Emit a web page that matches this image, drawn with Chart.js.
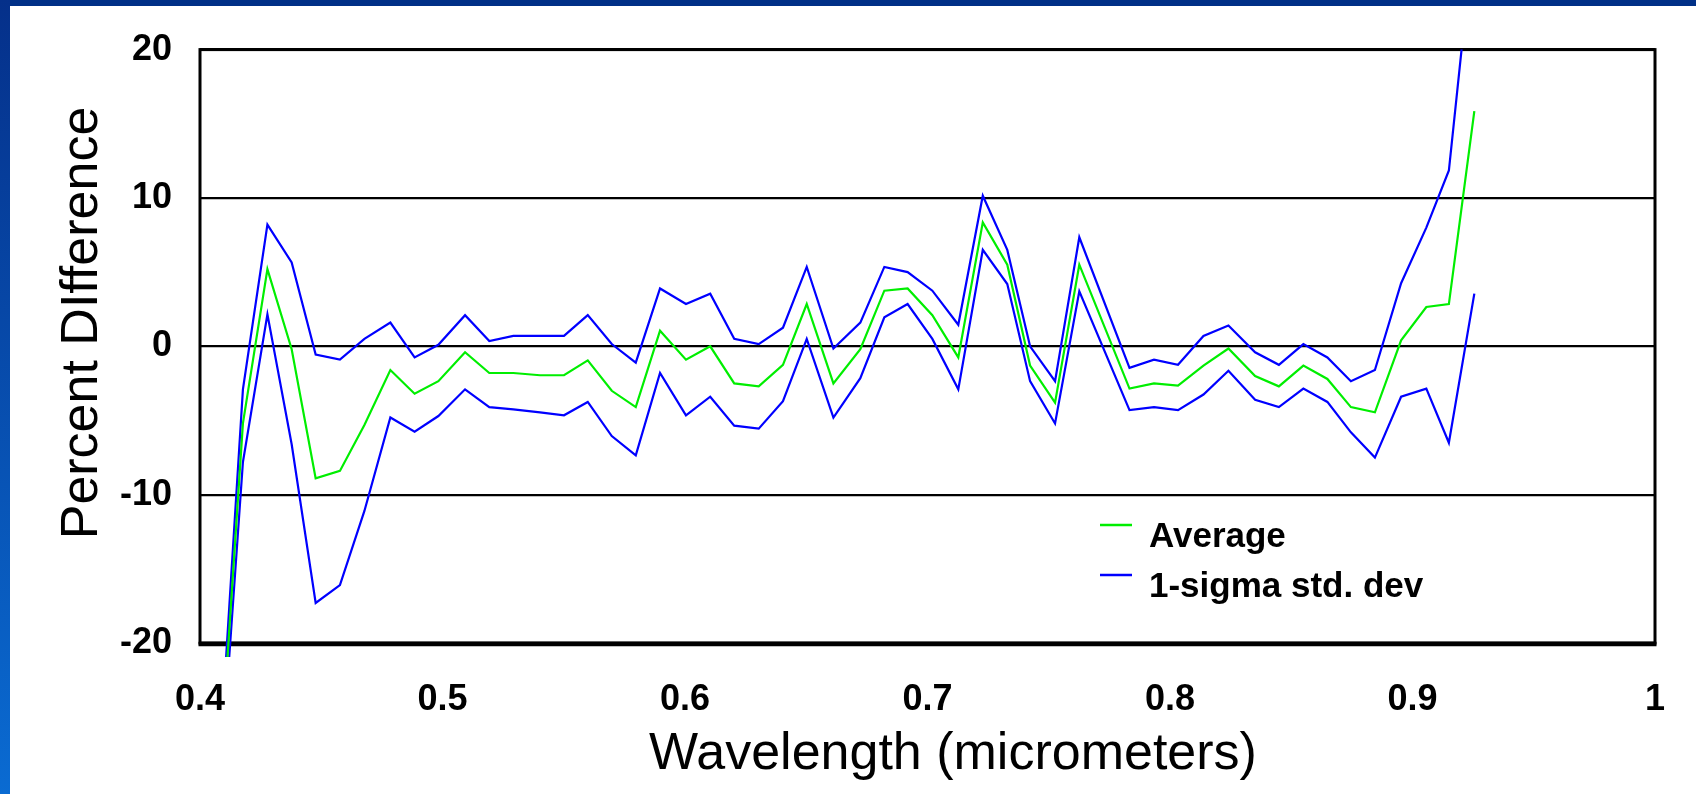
<!DOCTYPE html>
<html lang="en">
<head>
    <meta charset="UTF-8">
    <title>Percent Difference vs Wavelength</title>
    <script src="https://cdn.jsdelivr.net/npm/chart.js"></script>
    <style>
        html, body { margin: 0; padding: 0; background: #fff; }
        body { width: 1696px; height: 794px; position: relative; overflow: hidden; }
        #myChart { position: absolute; left: 0; top: 0; }
        /* slide frame: navy band on top, blue gradient strip on the left */
        #topBand { position: absolute; left: 0; top: 0; width: 1696px; height: 6px; background: #003087; }
        #leftBand { position: absolute; left: 0; top: 0; width: 10px; height: 794px; background: linear-gradient(#05308a, #0a6bd2); }
    </style>
</head>
<body>
    <canvas id="myChart" width="1696" height="794"></canvas>
    <div id="topBand"></div>
    <div id="leftBand"></div>
    <script>
        // wavelength in micrometers
        const wavelengths = [0.4076, 0.4177, 0.4278, 0.4378, 0.4477, 0.4577, 0.4678, 0.4785, 0.4885, 0.4983,
            0.5093, 0.5193, 0.5292, 0.5402, 0.5501, 0.5599, 0.5698, 0.5797, 0.5897, 0.6004,
            0.6104, 0.6203, 0.6304, 0.6404, 0.6502, 0.6612, 0.6723, 0.6822, 0.6918, 0.7020,
            0.7127, 0.7228, 0.7329, 0.7423, 0.7526, 0.7626, 0.7833, 0.7934, 0.8033, 0.8138,
            0.8241, 0.8351, 0.8449, 0.8550, 0.8649, 0.8746, 0.8845, 0.8953, 0.9057, 0.9150, 0.9255];

        // percent difference
        const average = [-30.2, -5.2, 5.2, -0.2, -8.9, -8.4, -5.3, -1.6, -3.2, -2.35,
            -0.4, -1.8, -1.8, -1.95, -1.95, -0.95, -3.0, -4.1, 1.05, -0.9,
            0.0, -2.5, -2.7, -1.25, 2.85, -2.5, -0.2, 3.75, 3.9, 2.1,
            -0.75, 8.35, 5.5, -1.3, -3.8, 5.5, -2.85, -2.5, -2.65, -1.3,
            -0.15, -2.0, -2.7, -1.3, -2.2, -4.1, -4.45, 0.4, 2.65, 2.85, 15.85];

        const sigmaUpper = [-29.2, -2.9, 8.2, 5.65, -0.55, -0.9, 0.5, 1.6, -0.75, 0.1,
            2.1, 0.35, 0.7, 0.7, 0.7, 2.1, 0.15, -1.1, 3.9, 2.85,
            3.55, 0.5, 0.15, 1.25, 5.35, -0.15, 1.6, 5.35, 5.0, 3.75,
            1.45, 10.15, 6.5, 0.0, -2.35, 7.35, -1.45, -0.9, -1.25, 0.7,
            1.4, -0.4, -1.25, 0.15, -0.75, -2.35, -1.6, 4.25, 8.0, 11.85, 28.2];

        const sigmaLower = [-31.3, -7.8, 2.15, -6.6, -17.3, -16.1, -11.1, -4.8, -5.75, -4.7,
            -2.9, -4.1, -4.25, -4.45, -4.65, -3.75, -6.05, -7.35, -1.8, -4.65,
            -3.4, -5.35, -5.55, -3.7, 0.5, -4.8, -2.15, 1.95, 2.85, 0.5,
            -2.9, 6.5, 4.2, -2.35, -5.2, 3.7, -4.3, -4.1, -4.3, -3.25,
            -1.65, -3.6, -4.1, -2.85, -3.75, -5.8, -7.5, -3.4, -2.85, -6.5, 3.55];

        const xTickLabels = ['0.4', '0.5', '0.6', '0.7', '0.8', '0.9', '1'];
        const yTickLabels = ['-20', '-10', '0', '10', '20'];

        const FONT = "'Liberation Sans', Arial, sans-serif";
        const GREEN = '#00ee00';
        const BLUE = '#0000ff';

        const toPoints = (ys) => wavelengths.map((x, i) => ({ x: x, y: ys[i] }));

        // lines may run a little below the frame, but not above it
        const lineClip = { left: 20, top: 0, right: 20, bottom: 14 };

        // black box around the plot area
        const frame = {
            id: 'frame',
            beforeDatasetsDraw(chart) {
                const { ctx, chartArea: a } = chart;
                ctx.save();
                ctx.strokeStyle = '#000';
                ctx.lineWidth = 3;
                ctx.strokeRect(a.left, a.top, a.right - a.left, a.bottom - a.top);
                ctx.lineWidth = 4.5;
                ctx.beginPath();
                ctx.moveTo(a.left - 1.5, a.bottom + 1);
                ctx.lineTo(a.right + 1.5, a.bottom + 1);
                ctx.stroke();
                ctx.restore();
            }
        };

        // legend inside the plot, lower right
        const insideLegend = {
            id: 'insideLegend',
            afterDatasetsDraw(chart) {
                const ctx = chart.ctx;
                const items = chart.data.datasets.filter(d => !d.noLegend);
                ctx.save();
                ctx.font = 'bold 35px ' + FONT;
                ctx.textBaseline = 'alphabetic';
                ctx.textAlign = 'left';
                items.forEach((d, i) => {
                    const y = 525 + i * 50;
                    ctx.strokeStyle = d.borderColor;
                    ctx.lineWidth = 2.5;
                    ctx.beginPath();
                    ctx.moveTo(1100, y);
                    ctx.lineTo(1132, y);
                    ctx.stroke();
                    ctx.fillStyle = '#000';
                    ctx.fillText(d.label, 1149, y + 21.5);
                });
                ctx.restore();
            }
        };

        // axis titles
        const axisTitles = {
            id: 'axisTitles',
            afterDraw(chart) {
                const ctx = chart.ctx;
                ctx.save();
                ctx.fillStyle = '#000';
                ctx.font = '52px ' + FONT;
                ctx.textAlign = 'center';
                ctx.textBaseline = 'alphabetic';
                ctx.fillText('Wavelength (micrometers)', 953, 769);
                ctx.translate(97, 323);
                ctx.rotate(-Math.PI / 2);
                ctx.fillText('Percent DIfference', 0, 0);
                ctx.restore();
            }
        };

        new Chart(document.getElementById('myChart'), {
            type: 'line',
            data: {
                datasets: [{
                    label: 'Average',
                    data: toPoints(average),
                    borderColor: GREEN,
                    borderWidth: 2.2,
                    clip: lineClip
                }, {
                    label: '1-sigma std. dev',
                    data: toPoints(sigmaUpper),
                    borderColor: BLUE,
                    borderWidth: 2.2,
                    clip: lineClip
                }, {
                    label: '1-sigma std. dev',
                    noLegend: true,
                    data: toPoints(sigmaLower),
                    borderColor: BLUE,
                    borderWidth: 2.2,
                    clip: lineClip
                }]
            },
            options: {
                responsive: false,
                animation: false,
                elements: { point: { radius: 0 }, line: { tension: 0 } },
                layout: { padding: { top: 45, right: 41, left: 0, bottom: 0 } },
                plugins: {
                    legend: { display: false },
                    tooltip: { enabled: false }
                },
                scales: {
                    x: {
                        type: 'linear',
                        min: 0.4,
                        max: 1.0,
                        afterFit: (s) => { s.height = 151; },
                        grid: { display: false },
                        border: { display: false },
                        ticks: {
                            stepSize: 0.1,
                            padding: 27,
                            color: '#000',
                            font: { family: FONT, size: 36, weight: 'bold' },
                            maxRotation: 0,
                            callback: (v, i) => xTickLabels[i]
                        }
                    },
                    y: {
                        min: -20,
                        max: 20,
                        afterFit: (s) => { s.width = 200; },
                        grid: { color: '#000', lineWidth: 2.2, drawTicks: false },
                        border: { display: false },
                        ticks: {
                            stepSize: 10,
                            padding: 28,
                            color: '#000',
                            font: { family: FONT, size: 36, weight: 'bold' },
                            callback: (v, i) => yTickLabels[i]
                        }
                    }
                }
            },
            plugins: [frame, insideLegend, axisTitles]
        });
    </script>
</body>
</html>
